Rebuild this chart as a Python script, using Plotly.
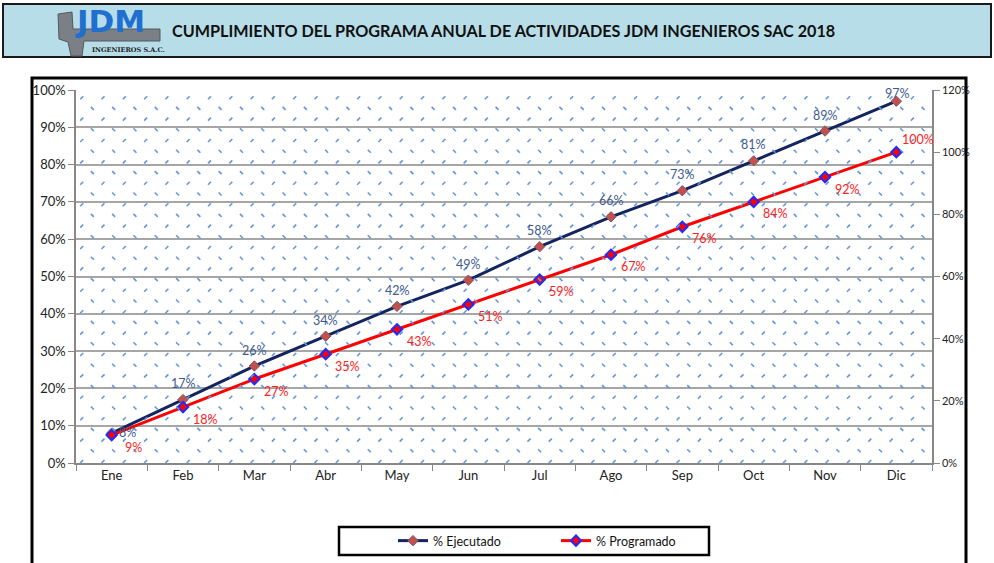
import numpy as np
import plotly.graph_objects as go

# Monthly progress data
meses = ["Ene", "Feb", "Mar", "Abr", "May", "Jun", "Jul", "Ago", "Sep", "Oct", "Nov", "Dic"]
ejecutado = [8, 17, 26, 34, 42, 49, 58, 66, 73, 81, 89, 97]
programado = [9, 18, 27, 35, 43, 51, 59, 67, 76, 84, 92, 100]

left_ticks = [0, 10, 20, 30, 40, 50, 60, 70, 80, 90, 100]
right_ticks = [0, 20, 40, 60, 80, 100, 120]

W, H = 994, 563
L, R, T, B = 76, 932, 90, 463  # plot area in pixels


def px_x(p):
    return (p - L) / (R - L)


def px_y(p):
    return (B - p) / (B - T)


FONT = "Lato"
fig = go.Figure()

# dotted texture of the plot background
cols = np.arange(5.7, R - L, 21.3)
rows = np.arange(7.7, B - T, 10.7)
tx, ty, sym = [], [], []
for i, yy in enumerate(rows):
    off = 10.65 if i % 2 else 0.0
    for xx in cols:
        if xx + off < R - L - 2:
            tx.append(xx + off)
            ty.append((B - T) - yy)
            sym.append("line-nw" if i % 2 else "line-ne")
fig.add_trace(go.Scatter(
    x=tx, y=ty, mode="markers", xaxis="x3", yaxis="y3", showlegend=False,
    hoverinfo="skip",
    marker=dict(symbol=sym, size=3, line=dict(color="#6496d8", width=1.6)),
))

fig.add_trace(go.Scatter(
    x=meses, y=ejecutado, name="% Ejecutado", mode="lines+markers",
    line=dict(color="#14245e", width=3),
    marker=dict(symbol="diamond", size=8, color="#c4504d",
                line=dict(color="#7a5a6a", width=1)),
))
fig.add_trace(go.Scatter(
    x=meses, y=programado, name="% Programado", mode="lines+markers",
    yaxis="y2",
    line=dict(color="#ff0000", width=3),
    marker=dict(symbol="diamond", size=8, color="#ff0000",
                line=dict(color="#1f2cff", width=2)),
))

shapes = []
# header banner
shapes.append(dict(type="rect", xref="paper", yref="paper",
                   x0=px_x(3), x1=px_x(991), y0=px_y(57), y1=px_y(4),
                   fillcolor="#b7dee8", line=dict(color="#1a1a1a", width=2),
                   layer="below"))
# caliper logo
shapes.append(dict(type="path", xref="paper", yref="paper",
                   path=" ".join([
                       f"M {px_x(58)},{px_y(14)}", f"L {px_x(72)},{px_y(12)}",
                       f"L {px_x(73)},{px_y(29)}", f"L {px_x(160)},{px_y(29)}",
                       f"L {px_x(160)},{px_y(41)}", f"L {px_x(84)},{px_y(41)}",
                       f"L {px_x(82)},{px_y(56)}", f"L {px_x(71)},{px_y(56)}",
                       f"L {px_x(68)},{px_y(42)}", f"L {px_x(59)},{px_y(39)}", "Z"]),
                   fillcolor="#7b7f86", line=dict(color="#55595f", width=1)))
# chart frame
shapes.append(dict(type="rect", xref="paper", yref="paper",
                   x0=px_x(32), x1=px_x(966), y0=px_y(570), y1=px_y(78),
                   fillcolor="rgba(0,0,0,0)", line=dict(color="#000000", width=3)))
# legend frame
shapes.append(dict(type="rect", xref="paper", yref="paper",
                   x0=px_x(339), x1=px_x(709), y0=px_y(555), y1=px_y(527),
                   fillcolor="rgba(0,0,0,0)", line=dict(color="#000000", width=2.5)))

annotations = [
    dict(text="<b>CUMPLIMIENTO DEL PROGRAMA ANUAL DE ACTIVIDADES JDM INGENIEROS SAC 2018</b>",
         xref="paper", yref="paper", x=px_x(170), y=px_y(31), xanchor="left",
         yanchor="middle", showarrow=False,
         font=dict(family=FONT, size=16.2, color="#111111")),
    dict(text="<b>JDM</b>", xref="paper", yref="paper", x=px_x(74), y=px_y(21),
         xanchor="left", yanchor="middle", showarrow=False, borderpad=0,
         font=dict(family="DejaVu Sans", size=31, color="#1f6fd0")),
    dict(text="<b>INGENIEROS S.A.C.</b>", xref="paper", yref="paper",
         x=px_x(90), y=px_y(50), xanchor="left", yanchor="middle", showarrow=False,
         font=dict(family="DejaVu Serif", size=6.5, color="#222222")),
]

# value labels, placed beside each point
for i, (m, v) in enumerate(zip(meses, ejecutado)):
    if i == 0:
        xs, ys = 16, 1
    elif i == len(meses) - 1:
        xs, ys = 1, 8
    else:
        xs, ys = 0, 16
    annotations.append(dict(text=f"{v}%", x=m, y=v, xref="x", yref="y",
                            xshift=xs, yshift=ys, showarrow=False,
                            font=dict(family=FONT, size=12.5, color="#3e5a8c")))
for i, (m, v) in enumerate(zip(meses, programado)):
    if i == len(meses) - 1:
        xs, ys = 22, 13
    else:
        xs, ys = 22, -12
    annotations.append(dict(text=f"{v}%", x=m, y=v, xref="x", yref="y2",
                            xshift=xs, yshift=ys, showarrow=False,
                            font=dict(family=FONT, size=12.5, color="#ff2020")))

fig.update_layout(
    width=W, height=H,
    margin=dict(l=L, r=W - R, t=T, b=H - B, pad=0, autoexpand=False),
    paper_bgcolor="white", plot_bgcolor="white",
    font=dict(family=FONT, size=12, color="#222222"),
    showlegend=True,
    legend=dict(orientation="h", x=px_x(393), y=px_y(541), xanchor="left",
                yanchor="middle", bgcolor="rgba(0,0,0,0)", borderwidth=0,
                entrywidth=118, font=dict(family=FONT, size=12.5, color="#111111"),
                itemwidth=30),
    xaxis=dict(type="category", range=[-0.5, 11.5], showgrid=False,
               ticks="outside", tickson="boundaries", ticklen=6, tickcolor="#888888",
               showline=True, linecolor="#888888", linewidth=1.5, automargin=False,
               tickfont=dict(family=FONT, size=13, color="#222222"), fixedrange=True),
    yaxis=dict(range=[0, 100], tickvals=left_ticks, automargin=False,
               ticktext=[f"{v}%" for v in left_ticks], showgrid=True,
               gridcolor="#a6a6a6", gridwidth=1.5, zeroline=False,
               ticks="outside", ticklen=6, tickcolor="#888888",
               showline=True, linecolor="#888888", linewidth=1.5,
               tickfont=dict(family=FONT, size=13, color="#222222")),
    yaxis2=dict(range=[0, 120], overlaying="y", side="right", tickvals=right_ticks,
                ticktext=[f"{v}%" for v in right_ticks], showgrid=False,
                automargin=False,
                zeroline=False, ticks="outside", ticklen=6, tickcolor="#888888",
                showline=True, linecolor="#888888", linewidth=1.5,
                tickfont=dict(family=FONT, size=11, color="#222222")),
    xaxis3=dict(range=[0, R - L], overlaying="x", visible=False, fixedrange=True),
    yaxis3=dict(range=[0, B - T], overlaying="y", visible=False, fixedrange=True),
    shapes=shapes, annotations=annotations,
)

fig.write_html("out.html")
